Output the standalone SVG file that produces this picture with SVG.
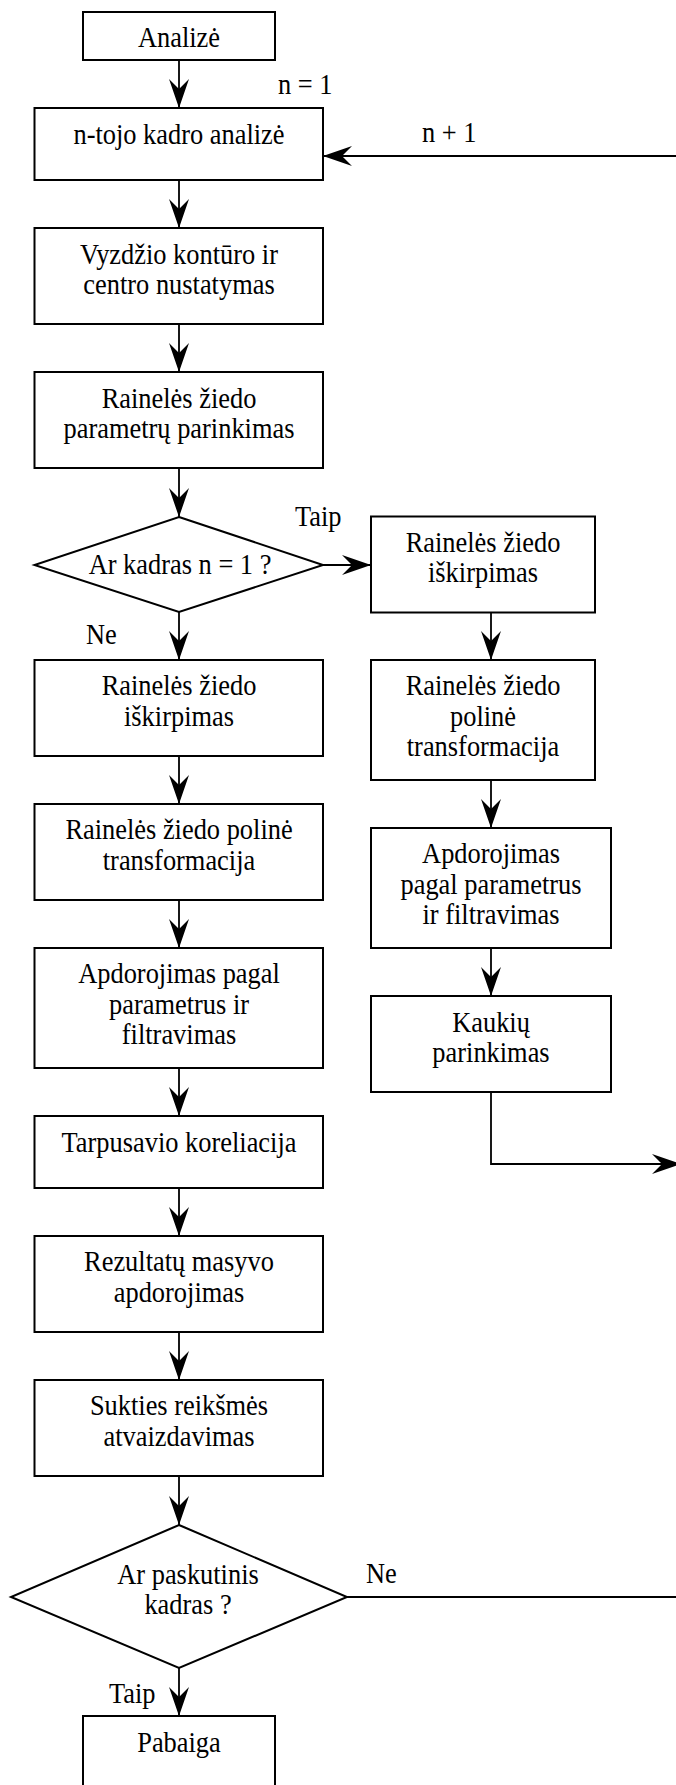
<svg xmlns="http://www.w3.org/2000/svg" width="676" height="1785" viewBox="0 0 676 1785">
<defs>
<marker id="ah" viewBox="-30 -11 31 22" refX="0" refY="0" markerWidth="31" markerHeight="22" markerUnits="userSpaceOnUse" orient="auto">
<path d="M0,0 L-29,-10 L-19,0 L-29,10 Z" fill="#000"/>
</marker>
<style>
.b{fill:#fff;stroke:#000;stroke-width:2}
.t{font-family:"Liberation Serif","Times New Roman",serif;font-size:26.4px;fill:#000;text-anchor:middle}
.l{font-family:"Liberation Serif","Times New Roman",serif;font-size:26.4px;fill:#000}
.c{fill:none;stroke:#000;stroke-width:1.8}
</style>
</defs>
<rect width="676" height="1785" fill="#fff"/>
<g id="connectors">
<line class="c" x1="179" y1="60" x2="179" y2="108" marker-end="url(#ah)"/>
<line class="c" x1="179" y1="180" x2="179" y2="228" marker-end="url(#ah)"/>
<line class="c" x1="179" y1="324" x2="179" y2="372" marker-end="url(#ah)"/>
<line class="c" x1="179" y1="468" x2="179" y2="517" marker-end="url(#ah)"/>
<line class="c" x1="323" y1="565" x2="371" y2="565" marker-end="url(#ah)"/>
<line class="c" x1="179" y1="612" x2="179" y2="660" marker-end="url(#ah)"/>
<line class="c" x1="179" y1="756" x2="179" y2="804" marker-end="url(#ah)"/>
<line class="c" x1="179" y1="900" x2="179" y2="948" marker-end="url(#ah)"/>
<line class="c" x1="179" y1="1068" x2="179" y2="1116" marker-end="url(#ah)"/>
<line class="c" x1="179" y1="1188" x2="179" y2="1236" marker-end="url(#ah)"/>
<line class="c" x1="179" y1="1332" x2="179" y2="1380" marker-end="url(#ah)"/>
<line class="c" x1="179" y1="1476" x2="179" y2="1525" marker-end="url(#ah)"/>
<line class="c" x1="179" y1="1668" x2="179" y2="1716" marker-end="url(#ah)"/>
<line class="c" x1="491" y1="612" x2="491" y2="660" marker-end="url(#ah)"/>
<line class="c" x1="491" y1="780" x2="491" y2="828" marker-end="url(#ah)"/>
<line class="c" x1="491" y1="948" x2="491" y2="996" marker-end="url(#ah)"/>
<polyline class="c" points="491,1092 491,1164 681,1164" marker-end="url(#ah)"/>
<line class="c" x1="677" y1="156" x2="323" y2="156" marker-end="url(#ah)"/>
<line class="c" x1="347" y1="1597" x2="677" y2="1597"/>
<text class="l" transform="translate(278,94) scale(1,1.1)">n = 1</text>
<text class="l" transform="translate(422,142) scale(1,1.1)">n + 1</text>
<text class="l" transform="translate(295,526) scale(1,1.1)">Taip</text>
<text class="l" transform="translate(86,644) scale(1,1.1)">Ne</text>
<text class="l" transform="translate(366,1583) scale(1,1.1)">Ne</text>
<text class="l" transform="translate(109,1703) scale(1,1.1)">Taip</text>
</g>
<g id="n-analize"><rect class="b" x="83" y="12" width="192" height="48"/><text class="t" transform="translate(179,47) scale(1,1.1)">Analizė</text></g>
<g id="n-kadro"><rect class="b" x="34.5" y="108" width="288.5" height="72"/><text class="t" transform="translate(179,143.5) scale(1,1.1)">n-tojo kadro analizė</text></g>
<g id="n-vyzdzio"><rect class="b" x="34.5" y="228" width="288.5" height="96"/><text class="t" transform="translate(179,263.5) scale(1,1.1)">Vyzdžio kontūro ir</text><text class="t" transform="translate(179,294) scale(1,1.1)">centro nustatymas</text></g>
<g id="n-param"><rect class="b" x="34.5" y="372" width="288.5" height="96"/><text class="t" transform="translate(179,407.5) scale(1,1.1)">Rainelės žiedo</text><text class="t" transform="translate(179,438) scale(1,1.1)">parametrų parinkimas</text></g>
<g id="d-kadras"><polygon class="b" points="179,517 323,565 179,612 34.5,565"/><text class="t" transform="translate(180,574) scale(1,1.1)">Ar kadras n = 1 ?</text></g>
<g id="r-iskirpimas"><rect class="b" x="371" y="516.5" width="224" height="96"/><text class="t" transform="translate(483,551.5) scale(1,1.1)">Rainelės žiedo</text><text class="t" transform="translate(483,582) scale(1,1.1)">iškirpimas</text></g>
<g id="r-poline"><rect class="b" x="371" y="660" width="224" height="120"/><text class="t" transform="translate(483,695) scale(1,1.1)">Rainelės žiedo</text><text class="t" transform="translate(483,725.5) scale(1,1.1)">polinė</text><text class="t" transform="translate(483,756) scale(1,1.1)">transformacija</text></g>
<g id="r-apdorojimas"><rect class="b" x="371" y="828" width="240" height="120"/><text class="t" transform="translate(491,863) scale(1,1.1)">Apdorojimas</text><text class="t" transform="translate(491,893.5) scale(1,1.1)">pagal parametrus</text><text class="t" transform="translate(491,924) scale(1,1.1)">ir filtravimas</text></g>
<g id="r-kaukiu"><rect class="b" x="371" y="996" width="240" height="96"/><text class="t" transform="translate(491,1031.5) scale(1,1.1)">Kaukių</text><text class="t" transform="translate(491,1062) scale(1,1.1)">parinkimas</text></g>
<g id="n-iskirpimas"><rect class="b" x="34.5" y="660" width="288.5" height="96"/><text class="t" transform="translate(179,695) scale(1,1.1)">Rainelės žiedo</text><text class="t" transform="translate(179,725.5) scale(1,1.1)">iškirpimas</text></g>
<g id="n-poline"><rect class="b" x="34.5" y="804" width="288.5" height="96"/><text class="t" transform="translate(179,839) scale(1,1.1)">Rainelės žiedo polinė</text><text class="t" transform="translate(179,869.5) scale(1,1.1)">transformacija</text></g>
<g id="n-apdorojimas"><rect class="b" x="34.5" y="948" width="288.5" height="120"/><text class="t" transform="translate(179,983) scale(1,1.1)">Apdorojimas pagal</text><text class="t" transform="translate(179,1013.5) scale(1,1.1)">parametrus ir</text><text class="t" transform="translate(179,1044) scale(1,1.1)">filtravimas</text></g>
<g id="n-koreliacija"><rect class="b" x="34.5" y="1116" width="288.5" height="72"/><text class="t" transform="translate(179,1152) scale(1,1.1)">Tarpusavio koreliacija</text></g>
<g id="n-rezultatu"><rect class="b" x="34.5" y="1236" width="288.5" height="96"/><text class="t" transform="translate(179,1271) scale(1,1.1)">Rezultatų masyvo</text><text class="t" transform="translate(179,1301.5) scale(1,1.1)">apdorojimas</text></g>
<g id="n-sukties"><rect class="b" x="34.5" y="1380" width="288.5" height="96"/><text class="t" transform="translate(179,1415) scale(1,1.1)">Sukties reikšmės</text><text class="t" transform="translate(179,1445.5) scale(1,1.1)">atvaizdavimas</text></g>
<g id="d-paskutinis"><polygon class="b" points="179,1525 347,1597 179,1668 11,1597"/><text class="t" transform="translate(188,1583.5) scale(1,1.1)">Ar paskutinis</text><text class="t" transform="translate(188,1614) scale(1,1.1)">kadras ?</text></g>
<g id="n-pabaiga"><rect class="b" x="83" y="1716" width="192" height="100"/><text class="t" transform="translate(179,1751.5) scale(1,1.1)">Pabaiga</text></g>
</svg>
